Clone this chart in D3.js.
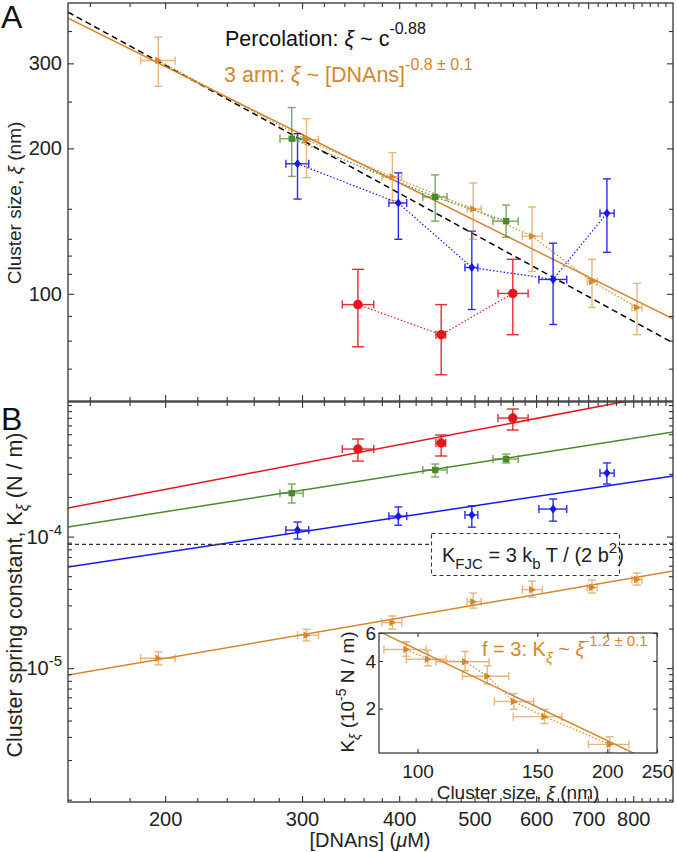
<!DOCTYPE html>
<html>
<head>
<meta charset="utf-8">
<script src="https://cdn.jsdelivr.net/npm/d3@7"></script>
<style>
  body { margin: 0; background: #fff; }
  text { font-family: "Liberation Sans", Arial, Helvetica, sans-serif; }
</style>
</head>
<body>
<svg id="chart" width="677" height="852"></svg>
<script>
// rows: conc, concLo, concHi, size, sizeLo, sizeHi, K, KLo, KHi
const redRows = [
  [354, 338, 371, 95.0, 77.7, 112.4, 4.63e-4, 3.75e-4, 5.52e-4],
  [453, 446, 459, 82.3, 68.0, 95.0, 5.15e-4, 4.10e-4, 5.92e-4],
  [560, 536, 586, 100.2, 82.3, 117.9, 7.97e-4, 6.46e-4, 9.33e-4]
];
const greenRows = [
  [291, 281, 301, 209.5, 175, 243, 2.14e-4, 1.80e-4, 2.51e-4],
  [445, 429, 461, 158.7, 141.4, 176.3, 3.21e-4, 2.84e-4, 3.56e-4],
  [549, 528, 569, 141.4, 131, 152.7, 3.89e-4, 3.63e-4, 4.24e-4]
];
const blueRows = [
  [296, 286, 306, 185.9, 157.1, 214.6, 1.12e-4, 9.58e-5, 1.29e-4],
  [399, 388, 409, 154.2, 129.7, 178, 1.43e-4, 1.22e-4, 1.68e-4],
  [496, 486, 505, 113.4, 92.8, 134.8, 1.46e-4, 1.18e-4, 1.71e-4],
  [631, 605, 657, 107.1, 86.4, 127.3, 1.62e-4, 1.31e-4, 1.93e-4],
  [740, 725, 756, 146.9, 121.9, 173, 3.04e-4, 2.51e-4, 3.63e-4]
];
const orangeRows = [
  [196, 186, 206, 304, 269, 340, 1.19e-5, 1.06e-5, 1.33e-5],
  [304, 296, 315, 208.5, 174, 230.5, 1.78e-5, 1.61e-5, 1.98e-5],
  [392, 380, 403, 174.6, 156, 196, 2.22e-5, 1.98e-5, 2.49e-5],
  [498, 489, 510, 149.8, 129.7, 169.6, 3.20e-5, 2.86e-5, 3.72e-5],
  [593, 576, 611, 131.6, 111.3, 151.3, 3.95e-5, 3.47e-5, 4.59e-5],
  [708, 698, 719, 106.1, 93.7, 117.9, 4.10e-5, 3.72e-5, 4.67e-5],
  [809, 797, 821, 93.7, 82.3, 105.1, 4.72e-5, 4.28e-5, 5.28e-5]
];

// power-law fits: [value at reference, exponent]
const percolationFit = [383, -0.88];   // size at 150 uM
const armSizeFit = [372, -0.8];        // size at 150 uM
const redKFit = [1.65e-4, 1.13];       // K at 150 uM
const greenKFit = [1.183e-4, 0.928];
const blueKFit = [5.87e-5, 0.89];
const orangeKFit = [8.86e-6, 1.016];
const kFJC = 8.73e-5;
const insetFit = [4.7, -1.2];          // K (1e-5 N/m) at size 100 nm

const concTicks = [200, 300, 400, 500, 600, 700, 800];
const concMinor = d3.range(160, 901, 20).filter(v => v % 100 !== 0);
const sizeTicks = [100, 200, 300];
const sizeMinor = [70, 80, 90, 110, 120, 130, 150, 250, 350];
const kTicks = [1e-5, 1e-4];
const kMinor = [2,3,4,5,6,7,8,9].map(m => m * 1e-6)
  .concat([2,3,4,5,6,7,8,9].map(m => m * 1e-5))
  .concat([2,3,4,5,6,7,8,9].map(m => m * 1e-4))
  .concat([1e-6, 1e-3]);
const insetXTicks = [100, 200, 300, 400];
const insetXLabels = ["100", "150", "200", "250"];
const insetYTicks = [2, 4, 6];

const colors = { red: "#e3151d", green: "#4b8a2c", blue: "#1616ee", orange: "#d4872c" };
const axisColor = "#333";

const svg = d3.select("#chart");
const L = 68, R = 673, topA = 3, botA = 401, topB = 402, botB = 802;

const x = d3.scaleLog().domain([150, 900]).range([L, R]);
const yA = d3.scaleLog().domain([60, 400]).range([botA, topA]);
const yB = d3.scaleLog().domain([9.6e-7, 1.055e-3]).range([botB, topB]);
const xIn = d3.scaleLog().domain([80, 400]).range([379, 657]);
const yIn = d3.scaleLog().domain([1.05, 6]).range([753, 633]);

const defs = svg.append("defs");
function clip(id, x0, y0, x1, y1) {
  defs.append("clipPath").attr("id", id).append("rect")
    .attr("x", x0).attr("y", y0).attr("width", x1 - x0).attr("height", y1 - y0);
}
clip("clipA", L, topA, R, botA);
clip("clipB", L, topB, R, botB);
clip("clipIn", 379, 633, 657, 753);

const series = [
  { rows: redRows, color: colors.red, marker: "circle", cap: 6, alpha: 0.9 },
  { rows: blueRows, color: colors.blue, marker: "diamond", cap: 4, alpha: 0.9 },
  { rows: greenRows, color: colors.green, marker: "square", cap: 4, alpha: 0.75 },
  { rows: orangeRows, color: colors.orange, marker: "triangle", cap: 4, alpha: 0.6 }
];

function markerPath(type) {
  if (type === "diamond") return "M0,-4.5L3.5,0L0,4.5L-3.5,0Z";
  if (type === "square") return "M-3.2,-3.2H3.2V3.2H-3.2Z";
  if (type === "triangle") return "M-3,-3.8L4,0L-3,3.8Z";
  return d3.symbol(d3.symbolCircle, 70)();
}

// error bars + markers; xv / yv return [value, lo, hi]
function drawPoints(g, s, sx, sy, xv, yv) {
  const grp = g.append("g");
  const eb = grp.append("g").attr("stroke", s.color).attr("stroke-width", 1.4).attr("opacity", s.alpha);
  const c = s.cap;
  s.rows.forEach(r => {
    const [xc, xlo, xhi] = xv(r);
    const [yc, ylo, yhi] = yv(r);
    const px = sx(xc), py = sy(yc);
    eb.append("line").attr("x1", px).attr("x2", px).attr("y1", sy(ylo)).attr("y2", sy(yhi));
    eb.append("line").attr("x1", px - c).attr("x2", px + c).attr("y1", sy(ylo)).attr("y2", sy(ylo));
    eb.append("line").attr("x1", px - c).attr("x2", px + c).attr("y1", sy(yhi)).attr("y2", sy(yhi));
    eb.append("line").attr("x1", sx(xlo)).attr("x2", sx(xhi)).attr("y1", py).attr("y2", py);
    eb.append("line").attr("x1", sx(xlo)).attr("x2", sx(xlo)).attr("y1", py - 4).attr("y2", py + 4);
    eb.append("line").attr("x1", sx(xhi)).attr("x2", sx(xhi)).attr("y1", py - 4).attr("y2", py + 4);
  });
  grp.selectAll("path.mk").data(s.rows).enter().append("path")
    .attr("class", "mk")
    .attr("d", markerPath(s.marker))
    .attr("fill", s.color)
    .attr("transform", r => `translate(${sx(xv(r)[0])},${sy(yv(r)[0])})`);
}

function dotted(g, rows, color, sx, sy, xv, yv) {
  g.append("path")
    .attr("d", d3.line().x(r => sx(xv(r))).y(r => sy(yv(r)))(rows))
    .attr("fill", "none").attr("stroke", color)
    .attr("stroke-width", 1.2).attr("stroke-dasharray", "1.5,2");
}

function powerLine(g, fit, ref, sx, sy, dom, color, dash) {
  const pts = dom.map(v => [v, fit[0] * Math.pow(v / ref, fit[1])]);
  g.append("path")
    .attr("d", d3.line().x(d => sx(d[0])).y(d => sy(d[1]))(pts))
    .attr("fill", "none").attr("stroke", color).attr("stroke-width", 1.5)
    .attr("stroke-dasharray", dash || null);
}

function styleAxis(g, fs) {
  g.select(".domain").remove();
  g.selectAll(".tick line").attr("stroke", axisColor).attr("stroke-width", 1.1);
  g.selectAll(".tick text").attr("fill", "#222").attr("font-size", fs || 20)
    .attr("font-family", "Liberation Sans, Arial, sans-serif");
}

function ticks(axisFn, scale, vals, size, tx, ty, fmt, pad, fs) {
  const ax = axisFn(scale).tickValues(vals).tickSize(-size).tickPadding(pad || 6)
    .tickFormat(fmt || (() => ""));
  const g = svg.append("g").attr("transform", `translate(${tx},${ty})`).call(ax);
  styleAxis(g, fs);
  return g;
}

// ---------- panel A ----------
const gA = svg.append("g").attr("clip-path", "url(#clipA)");
const sizeOf = r => [r[3], r[4], r[5]];
const concOf = r => [r[0], r[1], r[2]];
series.forEach(s => dotted(gA, s.rows, s.color, x, yA, r => r[0], r => r[3]));
powerLine(gA, percolationFit, 150, x, yA, [150, 900], "#000", "6,4");
powerLine(gA, armSizeFit, 150, x, yA, [150, 900], colors.orange);
series.forEach(s => drawPoints(gA, s, x, yA, concOf, sizeOf));

// ---------- panel B ----------
const gB = svg.append("g").attr("clip-path", "url(#clipB)");
const kOf = r => [r[6], r[7], r[8]];
powerLine(gB, redKFit, 150, x, yB, [150, 900], colors.red);
powerLine(gB, greenKFit, 150, x, yB, [150, 900], colors.green);
powerLine(gB, blueKFit, 150, x, yB, [150, 900], colors.blue);
powerLine(gB, orangeKFit, 150, x, yB, [150, 900], colors.orange);
gB.append("line").attr("x1", L).attr("x2", R).attr("y1", yB(kFJC)).attr("y2", yB(kFJC))
  .attr("stroke", axisColor).attr("stroke-width", 1.2).attr("stroke-dasharray", "4,3");
series.forEach(s => drawPoints(gB, s, x, yB, concOf, kOf));

// K_FJC box
const box = svg.append("g");
box.append("rect").attr("x", 431.5).attr("y", 533.5).attr("width", 188).attr("height", 42)
  .attr("fill", "#fff").attr("stroke", axisColor).attr("stroke-width", 1.1).attr("stroke-dasharray", "4,3");
const bt = box.append("text").attr("x", 442).attr("y", 562).attr("font-size", 20).attr("fill", "#222");
bt.append("tspan").text("K");
bt.append("tspan").attr("dy", 7).attr("font-size", 15).text("FJC");
bt.append("tspan").attr("dy", -7).text(" = 3 k");
bt.append("tspan").attr("dy", 7).attr("font-size", 15).text("b");
bt.append("tspan").attr("dy", -7).text(" T / (2 b");
bt.append("tspan").attr("dy", -9).attr("font-size", 15).text("2");
bt.append("tspan").attr("dy", 9).text(")");

// ---------- frames & axes ----------
[[topA, botA], [topB, botB]].forEach(([t, b]) => {
  svg.append("rect").attr("x", L).attr("y", t).attr("width", R - L).attr("height", b - t)
    .attr("fill", "none").attr("stroke", axisColor).attr("stroke-width", 1.3);
});

// x ticks
ticks(d3.axisTop, x, concTicks, 6, 0, topA);
ticks(d3.axisTop, x, concMinor, 4, 0, topA);
ticks(d3.axisBottom, x, concTicks, 6, 0, botA);
ticks(d3.axisBottom, x, concMinor, 4, 0, botA);
ticks(d3.axisTop, x, concTicks, 6, 0, topB);
ticks(d3.axisTop, x, concMinor, 4, 0, topB);
ticks(d3.axisBottom, x, concTicks, 6, 0, botB, d3.format("d"), 10);
ticks(d3.axisBottom, x, concMinor, 4, 0, botB);

// panel A y ticks
ticks(d3.axisLeft, yA, sizeTicks, 6, L, 0, d3.format("d"), 6);
ticks(d3.axisLeft, yA, sizeMinor, 4, L, 0);
ticks(d3.axisRight, yA, sizeTicks, 6, R, 0);
ticks(d3.axisRight, yA, sizeMinor, 4, R, 0);

// panel B y ticks
const kAx = ticks(d3.axisLeft, yB, kTicks, 6, L, 0, () => "", 6);
kAx.selectAll(".tick text").each(function (d) {
  const t = d3.select(this).attr("dy", "0.32em").attr("font-size", 20);
  t.append("tspan").text("10");
  t.append("tspan").attr("dy", -9).attr("font-size", 15).text(String(Math.round(Math.log10(d))));
});
ticks(d3.axisLeft, yB, kMinor, 4, L, 0);
ticks(d3.axisRight, yB, kTicks, 6, R, 0);
ticks(d3.axisRight, yB, kMinor, 4, R, 0);

// ---------- inset ----------
svg.append("rect").attr("x", 379).attr("y", 633).attr("width", 278).attr("height", 120)
  .attr("fill", "#fff");
const gI = svg.append("g").attr("clip-path", "url(#clipIn)");
const inX = r => [r[3], r[4], r[5]];
const inY = r => [r[6] * 1e5, r[7] * 1e5, r[8] * 1e5];
dotted(gI, orangeRows, colors.orange, xIn, yIn, r => r[3], r => r[6] * 1e5);
powerLine(gI, insetFit, 100, xIn, yIn, [80, 400], colors.orange);
drawPoints(gI, series[3], xIn, yIn, inX, inY);
svg.append("rect").attr("x", 379).attr("y", 633).attr("width", 278).attr("height", 120)
  .attr("fill", "none").attr("stroke", axisColor).attr("stroke-width", 1.2);
ticks(d3.axisBottom, xIn, insetXTicks, 4, 0, 753, (d, i) => insetXLabels[i], 12, 19);
ticks(d3.axisTop, xIn, insetXTicks, 4, 0, 633);
ticks(d3.axisLeft, yIn, insetYTicks, 4, 379, 0, d3.format("d"), 3, 19);
ticks(d3.axisRight, yIn, insetYTicks, 4, 657, 0);

const it = svg.append("text").attr("x", 482).attr("y", 656).attr("font-size", 20).attr("fill", colors.orange);
it.append("tspan").text("f = 3: K");
it.append("tspan").attr("dy", 7).attr("font-size", 15).attr("font-style", "italic").text("ξ");
it.append("tspan").attr("dy", -7).text(" ~ ");
it.append("tspan").attr("font-style", "italic").text("ξ");
it.append("tspan").attr("dy", -10).attr("font-size", 15).text("-1.2 ± 0.1");

const iyl = svg.append("text").attr("transform", "translate(354,692) rotate(-90)")
  .attr("text-anchor", "middle").attr("font-size", 19).attr("fill", "#222");
iyl.append("tspan").text("K");
iyl.append("tspan").attr("dy", 6).attr("font-size", 14).attr("font-style", "italic").text("ξ");
iyl.append("tspan").attr("dy", -6).text(" (10");
iyl.append("tspan").attr("dy", -8).attr("font-size", 14).text("-5");
iyl.append("tspan").attr("dy", 8).text(" N / m)");

const ixl = svg.append("text").attr("x", 518).attr("y", 799).attr("text-anchor", "middle")
  .attr("font-size", 19).attr("fill", "#222");
ixl.append("tspan").text("Cluster size, ");
ixl.append("tspan").attr("font-style", "italic").text("ξ");
ixl.append("tspan").text(" (nm)");

// ---------- annotations ----------
const p1 = svg.append("text").attr("x", 225).attr("y", 46).attr("font-size", 21.5).attr("fill", "#111");
p1.append("tspan").text("Percolation: ");
p1.append("tspan").attr("font-style", "italic").text("ξ");
p1.append("tspan").text(" ~ c");
p1.append("tspan").attr("dy", -12).attr("font-size", 16).text("-0.88");

const p2 = svg.append("text").attr("x", 224).attr("y", 82).attr("font-size", 21.5).attr("fill", colors.orange);
p2.append("tspan").text("3 arm: ");
p2.append("tspan").attr("font-style", "italic").text("ξ");
p2.append("tspan").text(" ~ [DNAns]");
p2.append("tspan").attr("dy", -12).attr("font-size", 16).text("-0.8 ± 0.1");

// axis titles
const yla = svg.append("text").attr("transform", "translate(21,203) rotate(-90)")
  .attr("text-anchor", "middle").attr("font-size", 19).attr("fill", "#222");
yla.append("tspan").text("Cluster size, ");
yla.append("tspan").attr("font-style", "italic").text("ξ");
yla.append("tspan").text(" (nm)");

const ylb = svg.append("text").attr("transform", "translate(22,595) rotate(-90)")
  .attr("text-anchor", "middle").attr("font-size", 21.5).attr("fill", "#222");
ylb.append("tspan").text("Cluster spring constant, K");
ylb.append("tspan").attr("dy", 6).attr("font-size", 16).attr("font-style", "italic").text("ξ");
ylb.append("tspan").attr("dy", -6).text(" (N / m)");

const xl = svg.append("text").attr("x", 370).attr("y", 847).attr("text-anchor", "middle")
  .attr("font-size", 20).attr("fill", "#222");
xl.append("tspan").text("[DNAns] (");
xl.append("tspan").attr("font-style", "italic").text("μ");
xl.append("tspan").text("M)");

svg.append("text").attr("x", 1).attr("y", 28).attr("font-size", 32).attr("fill", "#111").text("A");
svg.append("text").attr("x", 1).attr("y", 430).attr("font-size", 32).attr("fill", "#111").text("B");
</script>
</body>
</html>
